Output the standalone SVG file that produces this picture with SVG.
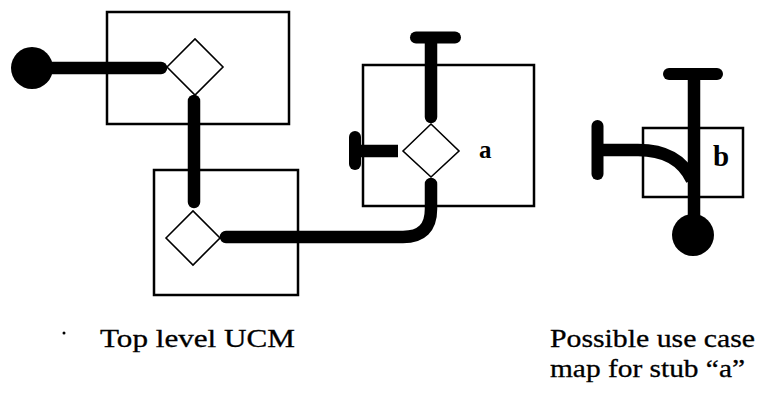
<svg xmlns="http://www.w3.org/2000/svg" width="761" height="394" viewBox="0 0 761 394">
<style>
.box{fill:none;stroke:#000;stroke-width:2.5}
.dia{fill:#fff;stroke:#000;stroke-width:1.6}
.path{fill:none;stroke:#000;stroke-width:12.5;stroke-linecap:round}
.bar{fill:none;stroke:#000;stroke-width:12;stroke-linecap:round}
.lbl{font-family:"Liberation Serif","Times New Roman",serif;font-size:25px;fill:#000;stroke:#000;stroke-width:0.3}
.stub{font-family:"Liberation Serif","Times New Roman",serif;font-weight:bold;fill:#000}
</style>
<rect width="761" height="394" fill="#fff"/>
<g id="comp1"><rect class="box" x="107" y="12" width="182" height="112"/></g>
<g id="comp2"><rect class="box" x="154" y="170" width="144" height="125"/></g>
<g id="comp-a"><rect class="box" x="363" y="65" width="171" height="141"/></g>
<g id="comp-b"><rect class="box" x="643" y="128" width="100" height="69"/></g>
<g id="connectors">
<line class="path" x1="40" y1="68" x2="161" y2="68"/>
<line class="path" x1="194" y1="101" x2="194" y2="202"/>
<path class="path" d="M431,184 L431,209 Q431,237 403,237 L226,237"/>
<line class="path" x1="431" y1="40" x2="431" y2="117"/>
<line class="path" x1="355" y1="151" x2="398" y2="151" style="stroke-linecap:butt"/>
<line class="path" x1="694" y1="80" x2="694" y2="225" style="stroke-linecap:butt"/>
<path class="path" d="M598,150 L638,150 Q678,150 692,180" style="stroke-linecap:butt"/>
</g>
<g id="start-top"><circle cx="32" cy="68" r="21" fill="#000"/></g>
<g id="stub1"><path class="dia" d="M167,67 L195,39 L223,67 L195,95 Z"/></g>
<g id="stub2"><path class="dia" d="M166,238 L193,211 L220,238 L193,265 Z"/></g>
<g id="stub-a">
<path class="dia" d="M403,151 L431,124 L459,151 L431,177 Z"/>
<text class="stub" x="479" y="158" font-size="25">a</text>
</g>
<g id="end-a-top"><line class="bar" x1="416" y1="37.5" x2="455" y2="37.5"/></g>
<g id="end-a-left"><line class="bar" x1="355" y1="137" x2="355" y2="164"/></g>
<g id="end-b-top"><line class="bar" x1="669" y1="74" x2="717" y2="74"/></g>
<g id="end-b-left"><line class="bar" x1="597.5" y1="126" x2="597.5" y2="174"/></g>
<g id="start-b"><circle cx="693" cy="235" r="21" fill="#000"/></g>
<text class="stub" x="713" y="166" font-size="29">b</text>
<circle cx="64" cy="333" r="1.5" fill="#000"/>
<text class="lbl" x="100" y="347" textLength="195" lengthAdjust="spacingAndGlyphs">Top level UCM</text>
<text class="lbl" x="550" y="347" textLength="205" lengthAdjust="spacingAndGlyphs">Possible use case</text>
<text class="lbl" x="550" y="377" textLength="195" lengthAdjust="spacingAndGlyphs">map for stub “a”</text>
</svg>
